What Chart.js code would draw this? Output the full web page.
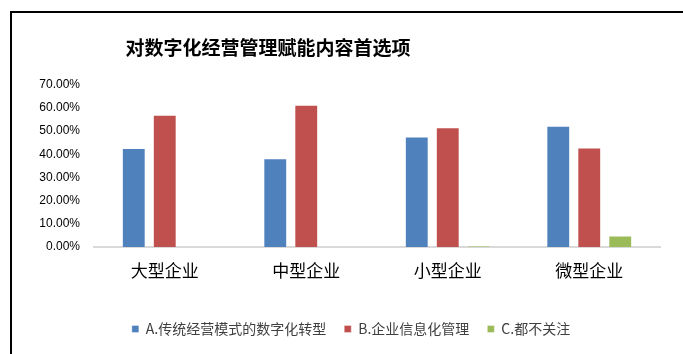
<!DOCTYPE html>
<html><head><meta charset="utf-8">
<script src="https://cdn.jsdelivr.net/npm/chart.js@4"></script>
<style>
html,body{margin:0;padding:0;background:#fff;width:683px;height:354px;overflow:hidden;}
#frame{position:absolute;left:10px;top:11px;width:720px;height:400px;border-left:2px solid #000;border-top:2px solid #000;box-sizing:border-box;}
#wrap{position:absolute;left:0;top:0;width:683px;height:354px;}
</style></head>
<body>
<div id="frame"></div>
<div id="wrap"><canvas id="c" width="683" height="354"></canvas></div>
<script>
const categories = ['大型企业', '中型企业', '小型企业', '微型企业'];
const seriesA = [42.7, 38.3, 47.7, 52.3];
const seriesB = [57.1, 61.4, 51.7, 42.9];
const seriesC = [0, 0, 0.5, 5.0];
const seriesNames = ['A.传统经营模式的数字化转型', 'B.企业信息化管理', 'C.都不关注'];
const yTicks = [0, 10, 20, 30, 40, 50, 60, 70];
const titleText = '对数字化经营管理赋能内容首选项';

const shiftPlugin = {
  id: 'shift',
  afterLayout(chart) {
    if (chart.titleBlock) { chart.titleBlock.left -= 69; chart.titleBlock.right -= 69; }
    if (chart.legend) { chart.legend.left += 14; chart.legend.right += 14; }
  }
};

new Chart(document.getElementById('c'), {
  type: 'bar',
  data: {
    labels: categories,
    datasets: [
      { label: seriesNames[0], data: seriesA, backgroundColor: '#4F81BD', borderColor: 'rgba(255,255,255,0.35)', borderWidth: 1 },
      { label: seriesNames[1], data: seriesB, backgroundColor: '#C0504D', borderColor: 'rgba(255,255,255,0.35)', borderWidth: 1 },
      { label: seriesNames[2], data: seriesC, backgroundColor: '#9BBB59', borderColor: 'rgba(255,255,255,0.35)', borderWidth: 1 }
    ]
  },
  options: {
    responsive: false,
    animation: false,
    devicePixelRatio: 1,
    layout: { padding: { left: 14, right: 23, top: 0, bottom: 8 } },
    datasets: { bar: { categoryPercentage: 0.657, barPercentage: 0.77 } },
    plugins: {
      title: {
        display: true, text: titleText, color: '#000',
        font: { family: '"Noto Sans CJK SC"', size: 19, weight: 'bold', lineHeight: 1.2 },
        padding: { top: 36, bottom: 26 }
      },
      legend: {
        position: 'bottom',
        labels: {
          color: '#404040', boxWidth: 7, boxHeight: 7, padding: 18,
          font: { family: '"Noto Sans CJK SC"', size: 14 }
        }
      },
      tooltip: { enabled: false }
    },
    scales: {
      x: {
        grid: { display: false, drawTicks: false },
        border: { display: true, color: '#d9d9d9', width: 2 },
        ticks: { color: '#000', padding: 13, font: { family: '"Noto Sans CJK SC"', size: 17 } },
        afterFit(s) { s.height = 57; }
      },
      y: {
        min: 0, max: 70,
        afterBuildTicks(s) { s.ticks = yTicks.map(v => ({ value: v })); },
        grid: { display: false, drawTicks: false },
        border: { display: false },
        ticks: {
          color: '#000', padding: 14,
          font: { family: '"Liberation Sans"', size: 12 },
          callback: v => v.toFixed(2) + '%'
        },
        afterFit(s) { s.width = 80; }
      }
    }
  },
  plugins: [shiftPlugin]
});
</script>
</body></html>
